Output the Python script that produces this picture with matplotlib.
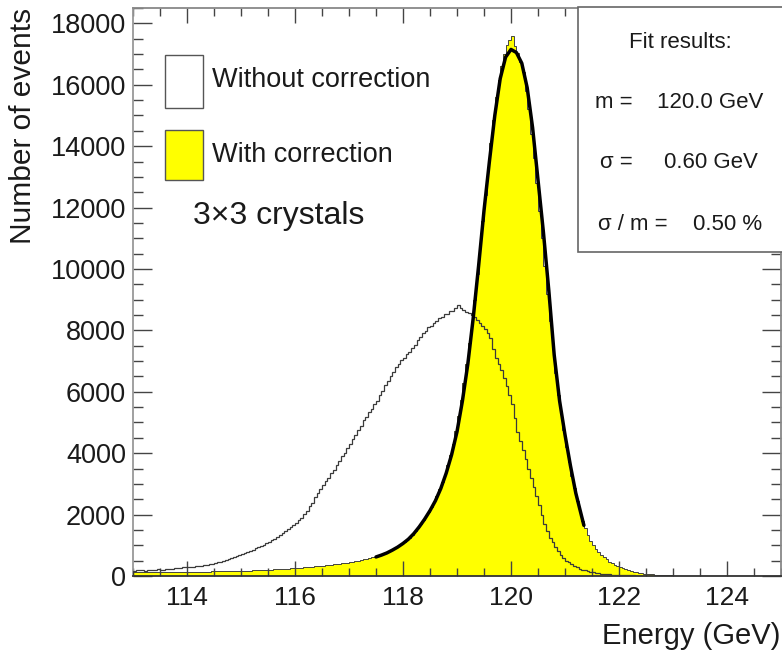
import matplotlib
matplotlib.use("Agg")
import matplotlib.pyplot as plt
import numpy as np
from matplotlib.patches import Rectangle
from matplotlib.ticker import MultipleLocator

# ---------------- data ----------------
energy_min = 113.0
energy_max = 125.0
n_bins = 240  # 0.05 GeV bins

without_correction = [
    170, 190, 180, 200, 160, 190, 200, 210, 190, 220,            # 113.0-113.5
    200, 210, 230, 220, 240, 250, 250, 270, 280, 290,            # 113.5-114.0
    290, 300, 300, 320, 330, 340, 360, 370, 390, 400,            # 114.0-114.5
    420, 440, 470, 490, 530, 550, 580, 610, 650, 690,            # 114.5-115.0
    720, 760, 780, 830, 850, 900, 930, 990, 1020, 1070,          # 115.0-115.5
    1100, 1160, 1200, 1270, 1320, 1390, 1450, 1520, 1580, 1660,  # 115.5-116.0
    1720, 1830, 1880, 2020, 2110, 2280, 2390, 2560, 2690, 2830,  # 116.0-116.5
    2950, 3100, 3190, 3350, 3440, 3620, 3740, 3900, 3990, 4170,  # 116.5-117.0
    4290, 4470, 4590, 4770, 4890, 5070, 5190, 5350, 5440, 5600,  # 117.0-117.5
    5690, 5900, 6040, 6220, 6340, 6520, 6640, 6800, 6890, 7020,  # 117.5-118.0
    7090, 7220, 7290, 7440, 7540, 7700, 7790, 7920, 7990, 8100,  # 118.0-118.5
    8140, 8250, 8290, 8400, 8440, 8520, 8540, 8620, 8640, 8720,  # 118.5-119.0
    8820, 8740, 8660, 8600, 8560, 8500, 8450, 8350, 8250, 8150,  # 119.0-119.5
    8050, 7900, 7750, 7400, 7100, 6900, 6700, 6450, 6200, 5900,  # 119.5-120.0
    5600, 5150, 4700, 4400, 4100, 3800, 3500, 3200, 2900, 2600,  # 120.0-120.5
    2300, 2000, 1700, 1450, 1250, 1100, 950, 800, 680, 590,      # 120.5-121.0
    500, 440, 380, 330, 280, 240, 210, 185, 160, 140,            # 121.0-121.5
    120, 105, 90, 80, 70, 60, 50, 45, 40, 35,                    # 121.5-122.0
    30, 28, 25, 22, 20, 18, 15, 13, 12, 11,                      # 122.0-122.5
    10, 9, 8, 7, 6, 5, 5, 4, 4, 3,                               # 122.5-123.0
    3, 3, 3, 2, 2, 2, 2, 1, 1, 1,                                # 123.0-123.5
    1, 1, 1, 0, 0, 0, 0, 0, 0, 0,                                # 123.5-124.0
    0, 0, 0, 0, 0, 0, 0, 0, 0, 0,                                # 124.0-124.5
    0, 0, 0, 0, 0, 0, 0, 0, 0, 0,                                # 124.5-125.0
]

with_correction = [
    120, 125, 118, 122, 128, 120, 126, 130, 124, 128,
    125, 130, 128, 134, 130, 136, 132, 135, 138, 134,
    140, 136, 138, 142, 140, 145, 143, 140, 146, 148,
    150, 148, 152, 150, 155, 158, 160, 158, 164, 166,
    170, 172, 175, 178, 184, 186, 190, 194, 200, 202,
    205, 210, 215, 220, 225, 230, 238, 244, 250, 255,
    260, 268, 275, 282, 290, 295, 300, 310, 320, 328,
    335, 345, 355, 365, 375, 385, 395, 408, 420, 435,
    450, 465, 480, 500, 520, 540, 560, 585, 610, 635,
    660, 695, 730, 765, 800, 840, 880, 930, 980, 1040,
    1100, 1170, 1250, 1350, 1450, 1570, 1700, 1820, 1950, 2100,
    2250, 2420, 2600, 2820, 3050, 3320, 3600, 3940, 4300, 4720,
    5200, 5720, 6300, 6920, 7600, 8280, 9000, 9850, 10700, 11550,
    12400, 13250, 14100, 14850, 15600, 16150, 16600, 17000, 17300, 17450,
    17600, 17250, 17050, 16750, 16400, 15800, 15200, 14400, 13600, 12800,
    11900, 11000, 10100, 9200, 8300, 7400, 6600, 5900, 5300, 4750,
    4200, 3700, 3250, 2850, 2450, 2100, 1800, 1550, 1320, 1150,
    1000, 880, 780, 690, 610, 540, 470, 410, 360, 320,
    280, 245, 215, 190, 165, 145, 125, 108, 92, 80,
    68, 58, 50, 43, 37, 32, 27, 23, 20, 17,
    14, 12, 10, 9, 8, 7, 6, 5, 4, 4,
    3, 3, 3, 2, 2, 2, 2, 1, 1, 1,
    1, 1, 1, 0, 0, 0, 0, 0, 0, 0,
    0, 0, 0, 0, 0, 0, 0, 0, 0, 0,
]

fit_energy = [117.5, 117.6, 117.7, 117.8, 117.9, 118.0, 118.1, 118.2, 118.3, 118.4,
              118.5, 118.6, 118.7, 118.8, 118.9, 119.0, 119.1, 119.2, 119.3, 119.4,
              119.5, 119.6, 119.7, 119.8, 119.9, 120.0, 120.1, 120.2, 120.3, 120.4,
              120.5, 120.6, 120.7, 120.8, 120.9, 121.0, 121.1, 121.2, 121.3, 121.35]
fit_events = [620, 680, 750, 840, 940, 1060, 1200, 1380, 1600, 1850,
              2130, 2450, 2850, 3350, 3950, 4700, 5700, 6900, 8400, 10100,
              11900, 13500, 15000, 16200, 16900, 17150, 17050, 16700, 15900, 14600,
              12900, 11200, 9300, 7200, 5700, 4600, 3600, 2700, 2000, 1650]

x_ticks = [114, 116, 118, 120, 122, 124]
y_ticks = [0, 2000, 4000, 6000, 8000, 10000, 12000, 14000, 16000, 18000]

legend_labels = ["Without correction", "With correction"]
annotation = "3\u00d73 crystals"
fit_title = "Fit results:"
fit_names = ["m =", "\u03c3 =", "\u03c3 / m ="]
fit_values = ["120.0 GeV", "0.60 GeV", "0.50 %"]

# ---------------- figure ----------------
plt.rcParams['font.family'] = ['Liberation Sans', 'DejaVu Sans']
W, H = 782, 661
fig = plt.figure(figsize=(W / 100, H / 100), dpi=100)
ax_l, ax_r, ax_t, ax_b = 133, 781, 8, 576
ax = fig.add_axes([ax_l / W, 1 - ax_b / H, (ax_r - ax_l) / W, (ax_b - ax_t) / H])

edges = np.linspace(energy_min, energy_max, n_bins + 1)
yellow = '#ffff00'

ax.stairs(with_correction, edges, fill=True, color=yellow, zorder=1)
ax.stairs(with_correction, edges, color='#444444', lw=0.7, zorder=2)
ax.stairs(without_correction, edges, color='#3a3a3a', lw=0.9, zorder=3)
ax.plot(fit_energy, fit_events, color='black', lw=2.5, zorder=4,
        solid_capstyle='round', solid_joinstyle='round')

ax.set_xlim(energy_min, energy_max)
ax.set_ylim(0, 18500)
ax.set_xticks(x_ticks)
ax.set_xticklabels([str(t) for t in x_ticks])
ax.set_yticks(y_ticks)
ax.set_yticklabels([str(t) for t in y_ticks])
ax.xaxis.set_minor_locator(MultipleLocator(0.5))
ax.yaxis.set_minor_locator(MultipleLocator(500))

tick_col = '#444444'
ax.tick_params(axis='both', which='both', direction='in', top=True, right=True,
               colors=tick_col, labelcolor='#1a1a1a', width=1.0)
ax.tick_params(axis='x', which='major', length=11, pad=7, labelsize=19)
ax.tick_params(axis='x', which='minor', length=5.5)
ax.tick_params(axis='y', which='major', length=14, pad=5, labelsize=19.5)
ax.tick_params(axis='y', which='minor', length=7)

for side, col in [('left', '#999999'), ('top', '#888888'),
                  ('right', '#888888'), ('bottom', '#333333')]:
    ax.spines[side].set_color(col)
    ax.spines[side].set_linewidth(1.3)

# axis titles
fig.text(23 / W, 1 - 8 / H, "Number of events", rotation=90, ha='center', va='top',
         fontsize=21.5, color='#1a1a1a')
fig.text(780 / W, 1 - 636 / H, "Energy (GeV)", ha='right', va='center',
         fontsize=21, color='#1a1a1a')


def axfx(px):
    return (px - ax_l) / (ax_r - ax_l)


def axfy(py):
    return (ax_b - py) / (ax_b - ax_t)


# legend
ax.add_patch(Rectangle((axfx(165), axfy(108)), axfx(203) - axfx(165), axfy(55) - axfy(108),
                       transform=ax.transAxes, facecolor='white', edgecolor='#555555',
                       lw=1.0, zorder=6))
ax.add_patch(Rectangle((axfx(165), axfy(180)), axfx(203) - axfx(165), axfy(130) - axfy(180),
                       transform=ax.transAxes, facecolor=yellow, edgecolor='#555555',
                       lw=1.0, zorder=6))
ax.text(axfx(212), axfy(80), legend_labels[0], transform=ax.transAxes, ha='left',
        va='center', fontsize=19.5, color='#1a1a1a', zorder=7)
ax.text(axfx(212), axfy(155), legend_labels[1], transform=ax.transAxes, ha='left',
        va='center', fontsize=19.5, color='#1a1a1a', zorder=7)
ax.text(axfx(193), axfy(216), annotation, transform=ax.transAxes, ha='left',
        va='center', fontsize=23, color='#1a1a1a', zorder=7)

# fit results box
ax.add_patch(Rectangle((axfx(578), axfy(252)), 0.5, axfy(7) - axfy(252),
                       transform=ax.transAxes, facecolor='white', edgecolor='#666666',
                       lw=1.2, zorder=10, clip_on=False))
ax.text(axfx(680), axfy(43), fit_title, transform=ax.transAxes, ha='center',
        va='center', fontsize=16, color='#1a1a1a', zorder=11)
rows_y = [102, 163, 225]
name_x = [595, 600, 598]
value_x = [763, 758, 762]
for nm, val, yy, nx, vx in zip(fit_names, fit_values, rows_y, name_x, value_x):
    ax.text(axfx(nx), axfy(yy), nm, transform=ax.transAxes, ha='left', va='center',
            fontsize=16, color='#1a1a1a', zorder=11)
    ax.text(axfx(vx), axfy(yy), val, transform=ax.transAxes, ha='right', va='center',
            fontsize=16, color='#1a1a1a', zorder=11)

fig.savefig("out.png", dpi=100)
